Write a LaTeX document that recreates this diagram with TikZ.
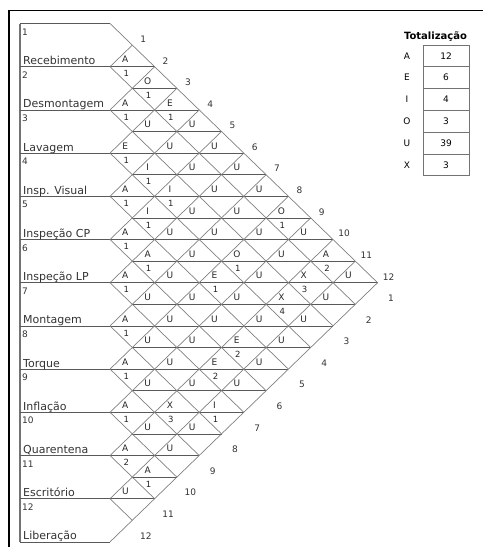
\documentclass[tikz,border=0pt]{standalone}
\usepackage{fontspec}
\setmainfont{DejaVu Sans}

\begin{document}
\begin{tikzpicture}[x=1pt, y=-1pt,
  hline/.style={draw=black!65, line width=0.8pt},
  dline/.style={draw=black!50, line width=0.7pt},
  rel/.style={font=\fontsize{9}{10}\selectfont, text=black!85, inner sep=0pt},
  why/.style={font=\fontsize{8.5}{10}\selectfont, text=black!85, inner sep=0pt},
  dept/.style={font=\fontsize{11}{12}\selectfont, text=black!80, anchor=base west, inner sep=0pt},
  deptno/.style={font=\fontsize{9}{10}\selectfont, text=black!80, anchor=north west, inner sep=0pt},
  colno/.style={font=\fontsize{9}{10}\selectfont, text=black!80, inner sep=0pt},
  totkey/.style={font=\fontsize{9}{10}\selectfont, inner sep=0pt},
  totbox/.style={draw=black!55, line width=0.8pt, minimum width=46pt, minimum height=21.8pt,
    inner sep=0pt, font=\fontsize{9}{10}\selectfont}]
\useasboundingbox (0,0) rectangle (483,547);
\def\xo{110} \def\ddx{22.3} \def\yo{66.7} \def\ddy{21.6}

% frame
\draw[line width=1.6pt] (9,547) -- (9,10.5) -- (483,10.5);

% left edge, top and bottom of the department column
\draw[draw=black!55, line width=1.4pt] (20,{\yo-2*\ddy}) -- (20,{\yo+22*\ddy});
\draw[hline] (20,{\yo-2*\ddy}) -- (\xo,{\yo-2*\ddy});
\draw[hline] (20,{\yo+22*\ddy}) -- (\xo,{\yo+22*\ddy});

% horizontal lines of the matrix
\foreach \n in {0,...,20} {
  \ifodd\n \pgfmathsetmacro\xa{\xo+\ddx}\else \def\xa{20}\fi
  \pgfmathsetmacro\xb{\xo+(12-abs(\n-10))*\ddx}
  \draw[hline] (\xa,{\yo+\n*\ddy}) -- (\xb,{\yo+\n*\ddy});
}

% diagonals
\foreach \m in {0,...,12} {
  \ifnum\m<12 \draw[dline] (\xo,{\yo+(2*\m-2)*\ddy}) -- ({\xo+(12-\m)*\ddx},{\yo+(10+\m)*\ddy}); \fi
  \ifnum\m>0 \draw[dline] (\xo,{\yo+(2*\m-2)*\ddy}) -- ({\xo+\m*\ddx},{\yo+(\m-2)*\ddy}); \fi
}

% departments
\foreach \i/\name in {1/Recebimento, 2/Desmontagem, 3/Lavagem, 4/Insp. Visual,
    5/Inspeção CP, 6/Inspeção LP, 7/Montagem, 8/Torque, 9/Inflação,
    10/Quarentena, 11/Escritório, 12/Liberação} {
  \node[deptno] (no\i) at (22,{\yo+(2*\i-4)*\ddy+4.8}) {\i};
  \node[dept] (dept\i) at (23,{\yo+(2*\i-2)*\ddy-2}) {\name};
}

% numbers along the two outer edges
\foreach \i in {1,...,12} {
  \node[colno] (top\i) at ({\xo+\i*\ddx+11},{\yo+(\i-2)*\ddy-6}) {\i};
  \node[colno] (bot\i) at ({\xo+(13-\i)*\ddx+13.5},{\yo+(9+\i)*\ddy+15.5}) {\i};
}

% relationship codes
\foreach \i/\j/\r in {1/2/A, 1/3/O, 1/4/E, 1/5/U, 1/6/U, 1/7/U, 1/8/U, 1/9/O, 1/10/U, 1/11/A, 1/12/U,
    2/3/A, 2/4/U, 2/5/U, 2/6/U, 2/7/U, 2/8/U, 2/9/U, 2/10/U, 2/11/X, 2/12/U,
    3/4/E, 3/5/I, 3/6/I, 3/7/U, 3/8/U, 3/9/O, 3/10/U, 3/11/X, 3/12/U,
    4/5/A, 4/6/I, 4/7/U, 4/8/U, 4/9/E, 4/10/U, 4/11/U, 4/12/U,
    5/6/A, 5/7/A, 5/8/U, 5/9/U, 5/10/U, 5/11/E, 5/12/U,
    6/7/A, 6/8/U, 6/9/U, 6/10/U, 6/11/E, 6/12/U,
    7/8/A, 7/9/U, 7/10/U, 7/11/U, 7/12/I,
    8/9/A, 8/10/U, 8/11/X, 8/12/U,
    9/10/A, 9/11/U, 9/12/U,
    10/11/A, 10/12/A,
    11/12/U} {
  \pgfmathsetmacro\cx{\xo+(\j-\i)*\ddx}
  \pgfmathsetmacro\cy{\yo+(\i+\j-3)*\ddy}
  \node[rel] (r\i-\j) at ({\cx-7},{\cy-7}) {\r};
}

% reasons
\foreach \i/\j/\w in {1/2/1, 1/3/1, 1/4/1, 1/9/1, 1/11/2, 2/3/1, 2/11/3, 3/4/1, 3/5/1, 3/6/1,
    3/9/1, 3/11/4, 4/5/1, 4/6/1, 4/9/1, 5/6/1, 5/7/1, 5/11/2, 6/7/1, 6/11/2,
    7/8/1, 7/12/1, 8/9/1, 8/11/3, 9/10/1, 10/11/2, 10/12/1} {
  \pgfmathsetmacro\cx{\xo+(\j-\i)*\ddx}
  \pgfmathsetmacro\cy{\yo+(\i+\j-3)*\ddy}
  \node[why] (w\i-\j) at ({\cx-6},{\cy+7}) {\w};
}

% totals
\node[font=\bfseries\fontsize{10}{12}\selectfont, inner sep=0pt] (tottitle) at (435.5,36.7) {Totalização};
\foreach \t/\v [count=\r from 0] in {A/12, E/6, I/4, O/3, U/39, X/3} {
  \node[totbox] (tot\t) at (446,{45+21.8*\r+10.9}) {\v};
  \node[totkey] (key\t) at (407,{45+21.8*\r+10.9}) {\t};
}
\end{tikzpicture}
\end{document}
